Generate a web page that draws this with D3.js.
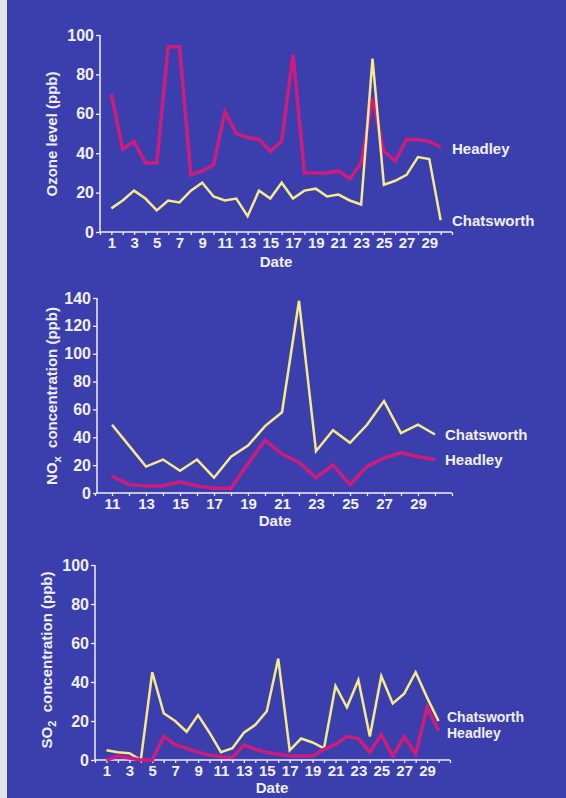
<!DOCTYPE html>
<html>
<head>
<meta charset="utf-8">
<script src="https://cdn.jsdelivr.net/npm/d3@7"></script>
<style>
  html, body { margin: 0; padding: 0; background: #3a40ac; }
  svg { display: block; }
  text { font-family: "Liberation Sans", Arial, Helvetica, sans-serif; font-weight: bold; fill: #f1eff6; }
</style>
</head>
<body>
<svg id="chart" width="566" height="798"></svg>
<script>
// ---------- DATA ----------
const ozoneDays = [1,2,3,4,5,6,7,8,9,10,11,12,13,14,15,16,17,18,19,20,21,22,23,24,25,26,27,28,29,30];
const ozoneHeadley = [70,42,46,35,35,94,94,29,31,34,61,50,48,47,41,46,90,30,30,30,31,27,35,68,41,36,47,47,46,43];
const ozoneChatsworth = [12,16,21,17,11,16,15,21,25,18,16,17,8,21,17,25,17,21,22,18,19,16,14,88,24,26,29,38,37,6];
const ozoneXLabels = [1,3,5,7,9,11,13,15,17,19,21,23,25,27,29];
const ozoneYTicks = [0,20,40,60,80,100];

const noxDays = [11,12,13,14,15,16,17,18,19,20,21,22,23,24,25,26,27,28,29,30];
const noxChatsworth = [49,34,19,24,16,24,11,26,34,48,58,138,30,45,36,49,66,43,49,42];
const noxHeadley = [12,6,5,5,8,5,3.5,3.5,21,38,28,22,11,20,6,19,25,29,26,24];
const noxXLabels = [11,13,15,17,19,21,23,25,27,29];
const noxYTicks = [0,20,40,60,80,100,120,140];

const so2Days = [1,2,3,4,5,6,7,8,9,10,11,12,13,14,15,16,17,18,19,20,21,22,23,24,25,26,27,28,29,30];
const so2Chatsworth = [5,4,3.5,0,45,24,20,14.5,23,14,4,6,14,18,25,52,5,11,9,6,38,27,41,12,43,29,34,45,32,20];
const so2Headley = [0,2,1,0,0,12,8,6,4,2.5,1.7,1.3,7.7,5.5,3.8,3,2,2,2,5.5,8,12,11,4,13,2,12,3,27,15];
const so2XLabels = [1,3,5,7,9,11,13,15,17,19,21,23,25,27,29];
const so2YTicks = [0,20,40,60,80,100];

// ---------- STYLE ----------
const BG = "#3a3fad";
const MAGENTA = "#cf1b7c";
const YELLOW = "#f6ea8c";
const INK = "#f1eff6";

const svg = d3.select("#chart");
svg.append("rect").attr("width", 566).attr("height", 798).attr("fill", BG);
svg.append("rect").attr("width", 7).attr("height", 798).attr("fill", "#e4e4ee");

function panel(cfg) {
  const g = svg.append("g");
  const x = d3.scaleLinear().domain(cfg.xDomain).range(cfg.xRange);
  const y = d3.scaleLinear().domain(cfg.yDomain).range(cfg.yRange);

  // y axis
  const yAxis = g.append("g")
    .attr("transform", `translate(${cfg.yAxisX},0)`)
    .call(d3.axisLeft(y).tickValues(cfg.yTicks).tickSize(4).tickSizeOuter(0).tickPadding(2));
  yAxis.select(".domain").attr("stroke", INK).attr("stroke-width", 1.5)
    .attr("d", `M0,${y(0)}V${y(cfg.yDomain[1])}`);
  yAxis.selectAll(".tick line").attr("stroke", INK).attr("stroke-width", 1.3);
  yAxis.selectAll(".tick text").style("font-size", "16px").attr("fill", INK);

  // x axis (minor ticks each day, labels on odd days)
  const minor = d3.range(Math.ceil(cfg.xDomain[0]), cfg.xDomain[1] + 1);
  const xAxis = g.append("g")
    .attr("transform", `translate(0,${y(0)})`)
    .call(d3.axisBottom(x).tickValues(minor).tickSize(3).tickSizeOuter(0).tickPadding(2)
      .tickFormat(d => cfg.xLabels.includes(d) ? d : ""));
  xAxis.select(".domain").attr("stroke", INK).attr("stroke-width", 1.5)
    .attr("d", `M${cfg.yAxisX},0H${x(cfg.xDomain[1])}`);
  xAxis.selectAll(".tick line").attr("stroke", INK).attr("stroke-width", 1.3);
  xAxis.selectAll(".tick text").style("font-size", "15px").attr("fill", INK);

  const line = d3.line().x((d, i) => x(cfg.days[i])).y(d => y(d));
  cfg.series.forEach(s => {
    g.append("path").datum(s.values)
      .attr("d", line)
      .attr("fill", "none")
      .attr("stroke", s.color)
      .attr("stroke-width", s.width)
      .attr("stroke-linejoin", "miter")
      .attr("stroke-linecap", "butt");
  });

  // series labels
  cfg.labels.forEach(l => {
    g.append("text").attr("x", l.x).attr("y", l.y).style("font-size", (l.size || 15) + "px").text(l.text);
  });

  // x title
  g.append("text").attr("x", cfg.dateX).attr("y", cfg.dateY)
    .attr("text-anchor", "middle").style("font-size", "15px").text("Date");

  // y title
  const t = g.append("text")
    .attr("transform", `translate(${cfg.titleX},${cfg.titleY}) rotate(-90)`)
    .attr("text-anchor", "middle").style("font-size", "15px");
  cfg.title(t);
}

panel({
  xDomain: [0, 31], xRange: [100, 452], yDomain: [0, 100], yRange: [232, 35],
  yAxisX: 100, yTicks: ozoneYTicks, xLabels: ozoneXLabels, days: ozoneDays,
  series: [
    { values: ozoneHeadley, color: MAGENTA, width: 3.5 },
    { values: ozoneChatsworth, color: YELLOW, width: 2.5 }
  ],
  labels: [
    { text: "Headley", x: 452, y: 154 },
    { text: "Chatsworth", x: 452, y: 226 }
  ],
  dateX: 276, dateY: 267,
  titleX: 57, titleY: 134,
  title: t => t.text("Ozone level (ppb)")
});

panel({
  xDomain: [10, 31], xRange: [95, 452], yDomain: [0, 140], yRange: [493, 298],
  yAxisX: 97, yTicks: noxYTicks, xLabels: noxXLabels, days: noxDays,
  series: [
    { values: noxHeadley, color: MAGENTA, width: 3.5 },
    { values: noxChatsworth, color: YELLOW, width: 2.5 }
  ],
  labels: [
    { text: "Chatsworth", x: 445, y: 440 },
    { text: "Headley", x: 445, y: 465 }
  ],
  dateX: 275, dateY: 526,
  titleX: 57, titleY: 396,
  title: t => {
    t.append("tspan").text("NO");
    t.append("tspan").attr("dy", 4).style("font-size", "11px").text("x");
    t.append("tspan").attr("dy", -4).text("\u00a0 concentration (ppb)");
  }
});

panel({
  xDomain: [0, 31], xRange: [95, 450], yDomain: [0, 100], yRange: [760, 565],
  yAxisX: 95, yTicks: so2YTicks, xLabels: so2XLabels, days: so2Days,
  series: [
    { values: so2Chatsworth, color: YELLOW, width: 2.5 },
    { values: so2Headley, color: MAGENTA, width: 3.5 }
  ],
  labels: [
    { text: "Chatsworth", x: 447, y: 722, size: 14 },
    { text: "Headley", x: 447, y: 738, size: 14 }
  ],
  dateX: 272, dateY: 793,
  titleX: 52, titleY: 660,
  title: t => {
    t.append("tspan").text("SO");
    t.append("tspan").attr("dy", 4).style("font-size", "11px").text("2");
    t.append("tspan").attr("dy", -4).text("\u00a0 concentration (ppb)");
  }
});
</script>
</body>
</html>
